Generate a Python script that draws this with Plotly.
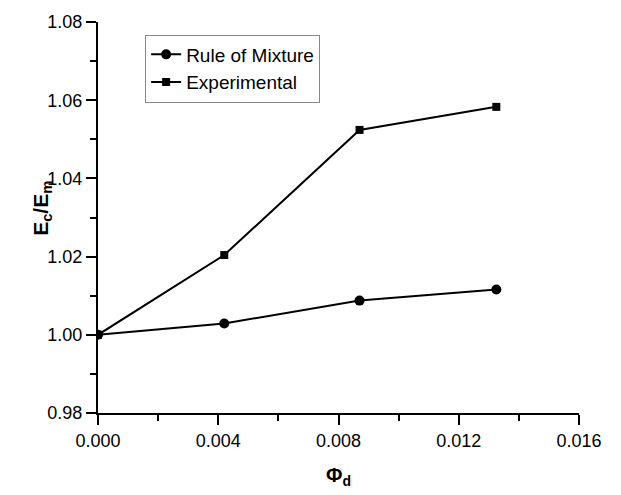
import plotly.graph_objects as go

phi = [0.0, 0.0042, 0.0087, 0.01325]
rule_of_mixture = [1.0, 1.0029, 1.00875, 1.0116]
experimental = [1.0, 1.0204, 1.0524, 1.0583]
x_ticks = [0.000, 0.004, 0.008, 0.012, 0.016]
x_tick_text = ["0.000", "0.004", "0.008", "0.012", "0.016"]
y_ticks = [0.98, 1.00, 1.02, 1.04, 1.06, 1.08]
y_tick_text = ["0.98", "1.00", "1.02", "1.04", "1.06", "1.08"]

font = "Liberation Sans, Arial, sans-serif"

fig = go.Figure()
fig.add_trace(go.Scatter(x=phi, y=rule_of_mixture, mode="lines+markers",
                         name="Rule of Mixture",
                         line=dict(color="black", width=2),
                         marker=dict(symbol="circle", size=10, color="black")))
fig.add_trace(go.Scatter(x=phi, y=experimental, mode="lines+markers",
                         name="Experimental",
                         line=dict(color="black", width=2),
                         marker=dict(symbol="square", size=8, color="black")))

fig.add_annotation(xref="paper", yref="paper", x=-0.117, y=0.524,
                   text="<b>E<sub>c</sub>/E<sub>m</sub></b>", textangle=-90,
                   showarrow=False, xanchor="center", yanchor="middle",
                   font=dict(size=21, family=font, color="black"))

fig.update_layout(
    width=621, height=495,
    margin=dict(l=98, r=42, t=20, b=76),
    paper_bgcolor="white", plot_bgcolor="white",
    font=dict(family=font, size=18, color="black"),
    showlegend=True,
    legend=dict(x=0.098, y=0.968, xanchor="left", yanchor="top",
                bordercolor="#888888", borderwidth=1, bgcolor="white",
                font=dict(size=19), tracegroupgap=0, itemwidth=30),
    xaxis=dict(range=[0, 0.016], tickvals=x_ticks, ticktext=x_tick_text,
               showgrid=False, zeroline=False, showline=True, linecolor="black",
               linewidth=2, ticks="outside", ticklen=10, tickwidth=2, tickcolor="black",
               minor=dict(dtick=0.002, ticks="outside", ticklen=6, tickwidth=2, tickcolor="black"),
               title=dict(text="<b>Φ<sub>d</sub></b>", font=dict(size=20), standoff=18)),
    yaxis=dict(range=[0.98, 1.08], tickvals=y_ticks, ticktext=y_tick_text,
               showgrid=False, zeroline=False, showline=True, linecolor="black",
               linewidth=2, ticks="outside", ticklen=10, tickwidth=2, tickcolor="black",
               minor=dict(dtick=0.01, ticks="outside", ticklen=6, tickwidth=2, tickcolor="black")),
)

fig.write_html("out.html")
